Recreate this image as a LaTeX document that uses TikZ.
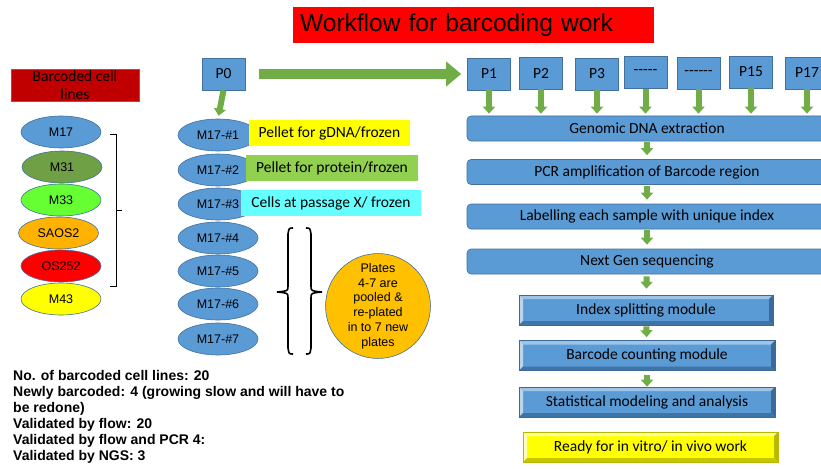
\documentclass[tikz,border=0pt]{standalone}
\usepackage{fontspec}
\setmainfont{Carlito}
\newfontfamily\arialfont{Liberation Sans}
\usetikzlibrary{shapes,arrows.meta,positioning,calc}
\definecolor{boxblue}{HTML}{5B9BD5}
\definecolor{boxedge}{HTML}{41719C}
\definecolor{bevlight}{HTML}{9DC3E6}
\definecolor{bevdark}{HTML}{3A6A9A}
\definecolor{arrowgreen}{HTML}{70AD47}
\definecolor{titlered}{HTML}{FF0000}
\definecolor{darkred}{HTML}{C00000}
\definecolor{midgreen}{HTML}{6FA045}
\definecolor{brightgreen}{HTML}{66FF33}
\definecolor{amber}{HTML}{FFB300}
\definecolor{gold}{HTML}{FFC000}
\definecolor{lemon}{HTML}{FFFF00}
\definecolor{lemonlight}{HTML}{FFFF99}
\definecolor{lemondark}{HTML}{B8B800}
\definecolor{leafgreen}{HTML}{92D050}
\definecolor{aqua}{HTML}{66FFFF}

\tikzset{
  cellline/.style={ellipse, draw=boxedge, line width=0.6pt, minimum width=80pt, minimum height=32pt, inner sep=0pt,
    font=\arialfont\fontsize{12.5}{15}\selectfont},
  plate/.style={cellline, fill=boxblue},
  note/.style={rectangle, minimum height=26pt, inner sep=0pt, font=\fontsize{15.5}{18}\selectfont},
  pbox/.style={rectangle, fill=boxblue, draw=boxedge, line width=0.6pt, minimum width=43pt, minimum height=32pt,
    inner sep=0pt, font=\fontsize{15.5}{18}\selectfont},
  stepbar/.style={rectangle, rounded corners=4pt, fill=boxblue, draw=boxedge, line width=0.6pt,
    minimum width=360pt, minimum height=25pt, inner sep=0pt, font=\fontsize{15.5}{18}\selectfont},
  bevelbox/.style n args={3}{rectangle, fill=#1, draw=#3, line width=0.6pt, minimum height=30pt, inner sep=0pt,
    font=\fontsize{15.5}{18}\selectfont,
    path picture={
      \fill[#2] (path picture bounding box.north west) -- (path picture bounding box.north east)
        -- ([shift={(-4pt,-4pt)}]path picture bounding box.north east) -- ([shift={(4pt,-4pt)}]path picture bounding box.north west) -- cycle;
      \fill[#2!70!white] (path picture bounding box.north west) -- ([shift={(4pt,-4pt)}]path picture bounding box.north west)
        -- ([shift={(4pt,4pt)}]path picture bounding box.south west) -- (path picture bounding box.south west) -- cycle;
      \fill[#3] (path picture bounding box.north east) -- (path picture bounding box.south east)
        -- ([shift={(-4pt,4pt)}]path picture bounding box.south east) -- ([shift={(-4pt,-4pt)}]path picture bounding box.north east) -- cycle;
      \fill[#3!80!#1] (path picture bounding box.south west) -- (path picture bounding box.south east)
        -- ([shift={(-4pt,4pt)}]path picture bounding box.south east) -- ([shift={(4pt,4pt)}]path picture bounding box.south west) -- cycle;
    }},
  garrow/.style={draw=arrowgreen, line width=6pt, -{Triangle[width=12pt,length=7pt]}},
  bigarrow/.style={draw=arrowgreen, line width=10pt, -{Triangle[width=24pt,length=15pt]}},
  brace/.style={draw=black, line width=1.6pt}
}

\begin{document}
\begin{tikzpicture}[x=1pt,y=-1pt]
\useasboundingbox (0,0) rectangle (821,468);
\clip (0,0) rectangle (821,468);

\node[fill=titlered, anchor=north west, minimum height=36pt, text width=347pt, inner xsep=7pt, inner ysep=0pt, align=left,
  font=\arialfont\fontsize{24.5}{28}\selectfont] (title) at (293,7) {Workflow for barcoding work};

\node[fill=darkred, draw=boxedge, line width=0.6pt, minimum width=128pt, minimum height=32pt] (cells) at (75,85) {};
\node[align=center, inner sep=0pt, font=\fontsize{15.5}{18}\selectfont] (cellstext) at (cells.center) {Barcoded cell\\lines};

\foreach \nm/\lbl/\clr/\xx/\yy in {m17/M17/boxblue/61/132, m31/M31/midgreen/62/167, m33/M33/brightgreen/61/200,
    saos/SAOS2/amber/58.5/233, os/OS252/titlered/61/266, m43/M43/lemon/61/299}
  \node[cellline, fill=\clr] (\nm) at (\xx,\yy) {\lbl};
\draw[line width=0.8pt] (110,134) -- (116,134) -- (116,286) -- (110,286);
\draw[line width=0.8pt] (116,210) -- (122,210);

\node[pbox] (p0) at (223.5,74) {P0};
\foreach \i/\yy in {1/135,2/170,3/204,4/238,5/271,6/304,7/339}
  \node[plate] (rep\i) at (218,\yy) {M17-\#\i};
\node[note, fill=lemon, minimum width=161pt] (gdna) at (329.5,133) {Pellet for gDNA/frozen};
\node[note, fill=leafgreen, minimum width=172pt] (protein) at (332,168) {Pellet for protein/frozen};
\node[note, fill=aqua, minimum width=180pt] (passage) at (331,203) {Cells at passage X/ frozen};
\draw[garrow, shorten >=3pt] (p0.south) -- (rep1.north);

\draw[brace] (293,228) .. controls (289,228) .. (288,234) -- (288,286) .. controls (288,291) .. (277,292)
  .. controls (288,293) .. (288,298) -- (288,348) .. controls (289,354) .. (293,354);
\draw[brace] (306,228) .. controls (310,228) .. (311,234) -- (311,286) .. controls (311,291) .. (322,292)
  .. controls (311,293) .. (311,298) -- (311,348) .. controls (310,354) .. (306,354);
\node[circle, fill=gold, draw=boxedge, line width=0.6pt, minimum size=104pt, inner sep=0pt, align=center,
  font=\arialfont\fontsize{12.5}{14.8}\selectfont] (pool) at (378,306) {Plates\\4-7 are\\pooled \&\\re-plated\\in to 7 new\\plates};

\foreach \nm/\lbl/\xx/\yy in {p1/P1/489/74, p2/P2/541/73, p3/P3/597/74, pa/-{}-{}-{}-{}-/645.5/72.5,
    pb/-{}-{}-{}-{}-{}-/698.5/73, p15/P15/751/72, p17/P17/807/73}
  \node[pbox] (\nm) at (\xx,\yy) {\lbl};
\draw[bigarrow, shorten <=14pt, shorten >=6pt] (p0.east) -- (p1.west);

\node[stepbar] (extract) at (647,128.5) {Genomic DNA extraction};
\node[stepbar] (pcr) at (647,172) {PCR amplification of Barcode region};
\node[stepbar] (index) at (647,216.5) {Labelling each sample with unique index};
\node[stepbar] (ngs) at (647,261.5) {Next Gen sequencing};
\node[bevelbox={boxblue}{bevlight}{bevdark}, minimum width=254pt] (split) at (646,310) {Index splitting module};
\node[bevelbox={boxblue}{bevlight}{bevdark}, minimum width=256pt] (count) at (647,355.5) {Barcode counting module};
\node[bevelbox={boxblue}{bevlight}{bevdark}, minimum width=256pt] (model) at (647,402) {Statistical modeling and analysis};
\node[bevelbox={lemon}{lemonlight}{lemondark}, minimum width=255pt] (ready) at (650.5,447) {Ready for in vitro/ in vivo work};

\foreach \nm in {p1,p2,p3,pa,pb,p15,p17}
  \draw[garrow, shorten >=2pt] (\nm.south) -- (\nm.south |- extract.north);
\draw[garrow, shorten <=1pt, shorten >=4pt] (extract) -- (pcr);
\draw[garrow, shorten <=1pt, shorten >=4pt] (pcr) -- (index);
\draw[garrow, shorten <=1pt, shorten >=4pt] (index) -- (ngs);
\draw[garrow, shorten <=2pt, shorten >=6pt] (ngs) -- (split);
\draw[garrow, shorten <=1pt, shorten >=3pt] (split) -- (count);
\draw[garrow, shorten <=4pt, shorten >=0pt] (count) -- (model);

\node[anchor=north west, align=left, inner sep=0pt, font=\arialfont\bfseries\fontsize{14}{16}\selectfont] (stats) at (13,370)
  {No. of barcoded cell lines: 20\\Newly barcoded: 4 (growing slow and will have to\\be redone)\\Validated by flow: 20\\Validated by flow and PCR 4:\\Validated by NGS: 3};
\end{tikzpicture}
\end{document}
